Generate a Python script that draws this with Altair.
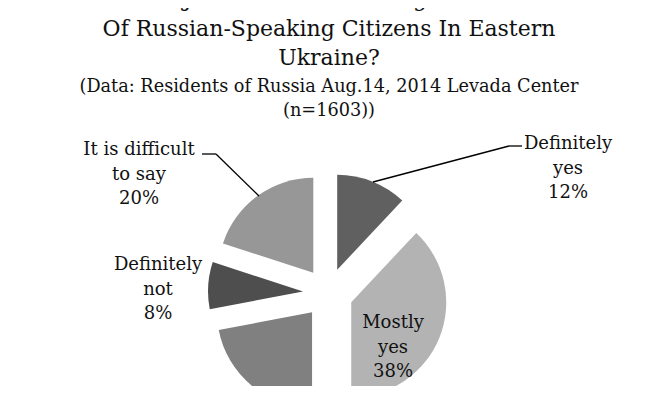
import altair as alt
import pandas as pd

# ---- data ----
categories = ["Definitely yes", "Mostly yes", "Mostly not", "Definitely not", "It is difficult to say"]
values = [12, 38, 22, 8, 20]
colors = ["#606060", "#b3b3b3", "#808080", "#4e4e4e", "#979797"]
title_lines = [
    "Russia Is Justified In Defending The Interests",
    "Of Russian-Speaking Citizens In Eastern",
    "Ukraine?",
]
subtitle_lines = [
    "(Data: Residents of Russia Aug.14, 2014 Levada Center",
    "(n=1603))",
]
label_lines = {
    "Definitely yes": ["Definitely", "yes"],
    "Mostly yes": ["Mostly", "yes"],
    "Definitely not": ["Definitely", "not"],
    "It is difficult to say": ["It is difficult", "to say"],
}

df = pd.DataFrame({"idx": list(range(len(categories))), "category": categories, "value": values})

W, H = 642, 378
CX, CY, R, EXPLODE = 320, 285, 95, 25
FONT = "DejaVu Serif"

pie = (
    alt.Chart(df)
    .transform_joinaggregate(total="sum(value)")
    .transform_window(cum="sum(value)", sort=[alt.SortField("idx")], frame=[None, 0])
    .transform_calculate(
        a0="2*PI*(datum.cum-datum.value)/datum.total",
        a1="2*PI*datum.cum/datum.total",
    )
    .transform_calculate(mid="(datum.a0+datum.a1)/2")
    .transform_calculate(
        cx=f"{CX}+{EXPLODE}*sin(datum.mid)",
        cy=f"{CY}-{EXPLODE}*cos(datum.mid)",
    )
    .mark_arc(radius=R, stroke=None)
    .encode(
        theta=alt.Theta("a0:Q", scale=None),
        theta2=alt.Theta2("a1:Q"),
        x=alt.X("cx:Q", scale=None, axis=None),
        y=alt.Y("cy:Q", scale=None, axis=None),
        color=alt.Color("category:N", scale=alt.Scale(domain=categories, range=colors), legend=None),
    )
)


def text_layer(txt, x, y, size, lh=24.5):
    return (
        alt.Chart(alt.Data(values=[{}]))
        .mark_text(font=FONT, fontSize=size, align="center", baseline="alphabetic",
                   color="#111111", lineBreak="\n", lineHeight=lh)
        .encode(x=alt.value(x), y=alt.value(y), text=alt.value(txt))
    )


def lab(cat):
    i = categories.index(cat)
    return "\n".join(label_lines[cat] + [f"{values[i]}%"])


layers = [pie]
layers.append(text_layer("\n".join(title_lines), 321, -2, 22, lh=29.5))
layers.append(text_layer("\n".join(subtitle_lines), 321, 84, 17.7, lh=24))
layers.append(text_layer(lab("Definitely yes"), 560, 141, 18))
layers.append(text_layer(lab("Mostly yes"), 385, 320, 18))
layers.append(text_layer(lab("Definitely not"), 150, 262, 18))
layers.append(text_layer(lab("It is difficult to say"), 131, 147, 18))


def seg(x1, y1, x2, y2, color="#000000", w=1.3):
    return (
        alt.Chart(alt.Data(values=[{}]))
        .mark_rule(color=color, strokeWidth=w)
        .encode(x=alt.value(x1), y=alt.value(y1), x2=alt.value(x2), y2=alt.value(y2))
    )


# leader lines
layers += [
    seg(194, 146, 208, 146),
    seg(208, 146, 251, 188),
    seg(365, 174, 501, 138),
    seg(501, 138, 514, 138),
]

chart = (
    alt.layer(*layers)
    .properties(width=W, height=H, autosize=alt.AutoSizeParams(type="none"), padding=0,
                background="white")
    .configure_view(stroke=None)
)

chart.save("out.html", embed_options={"renderer": "svg", "actions": False})
